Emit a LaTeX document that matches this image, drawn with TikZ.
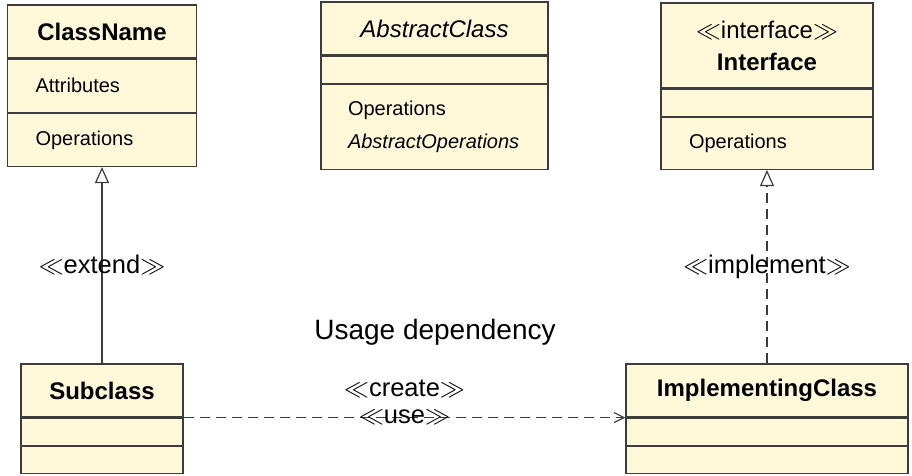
\documentclass[tikz,border=0pt]{standalone}
\usepackage{fontspec}
\setmainfont{Liberation Sans}
\usetikzlibrary{arrows.meta,positioning}

\definecolor{umlfill}{RGB}{255,249,218}
\definecolor{umlline}{RGB}{60,60,60}
\newcommand\headfont{\fontsize{24}{28}\selectfont\bfseries}
\newcommand\partfont{\fontsize{20}{24}\selectfont}
\newcommand\labelfont{\fontsize{25.5}{30}\selectfont}

\begin{document}
\begin{tikzpicture}[x=1pt,y=-1pt,
    umlhead/.style={draw=umlline,fill=umlfill,line width=1.2pt,inner sep=0pt,align=center,font=\headfont},
    umlpart/.style={draw=umlline,fill=umlfill,line width=1.2pt,inner ysep=0pt,inner xsep=28pt,align=left,font=\partfont},
    stereo/.style={font=\labelfont,inner sep=1pt},
    extends/.style={-{Triangle[open,length=16pt,width=14pt]},line width=1.2pt,draw=umlline},
    realizes/.style={extends,dash pattern=on 10pt off 6pt},
    uses/.style={-{Straight Barb[length=10pt,width=10pt]},line width=1.2pt,draw=umlline,dash pattern=on 10pt off 6pt}]
  \useasboundingbox (0,0) rectangle (912,475);

  % ClassName
  \node[umlhead,minimum width=189pt,minimum height=53pt] (cn) at (102,31.5) {ClassName};
  \node[umlpart,minimum height=53pt,text width=133pt] (cnAttr) [below=0pt of cn] {Attributes};
  \node[umlpart,minimum height=53pt,text width=133pt] (cnOps)  [below=0pt of cnAttr] {Operations};

  % AbstractClass
  \node[umlhead,minimum width=227pt,minimum height=53pt,font=\fontsize{24}{28}\selectfont\itshape] (ac) at (434.5,28.5) {AbstractClass};
  \node[umlhead,minimum width=227pt,minimum height=27pt] (acAttr) [below=0pt of ac] {};
  \node[umlpart,minimum height=85pt,inner xsep=27pt,text width=173pt,font=\fontsize{20}{33}\selectfont] (acOps) [below=0pt of acAttr]
    {Operations\\\textit{AbstractOperations}};

  % Interface
  \node[umlhead,minimum width=212pt,minimum height=85pt,font=\fontsize{24}{32}\selectfont] (itf) at (767,45.5)
    {$\ll$interface$\gg$\\\textbf{Interface}};
  \node[umlhead,minimum width=212pt,minimum height=27pt] (itfAttr) [below=0pt of itf] {};
  \node[umlpart,minimum height=52pt,text width=156pt] (itfOps) [below=0pt of itfAttr] {Operations};

  % Subclass
  \node[umlhead,minimum width=162pt,minimum height=53pt] (sub) at (102,390.5) {Subclass};
  \node[umlhead,minimum width=162pt,minimum height=27pt] (subAttr) [below=0pt of sub] {};
  \node[umlhead,minimum width=162pt,minimum height=27pt] (subOps)  [below=0pt of subAttr] {};

  % ImplementingClass
  \node[umlhead,minimum width=282pt,minimum height=53pt] (impl) at (767,390.5) {ImplementingClass};
  \node[umlhead,minimum width=282pt,minimum height=27pt] (implAttr) [below=0pt of impl] {};
  \node[umlhead,minimum width=282pt,minimum height=27pt] (implOps)  [below=0pt of implAttr] {};

  \node[font=\fontsize{28}{33}\selectfont] (usage) at (435,332) {Usage dependency};

  \path (sub.north)  edge[extends]  node[stereo] {$\ll$extend$\gg$} (cnOps.south)
        (impl.north) edge[realizes] node[stereo] {$\ll$implement$\gg$} (itfOps.south)
        (sub.south east) edge[uses] node[stereo] {$\ll$use$\gg$}
                                    node[stereo,yshift=29pt] {$\ll$create$\gg$} (impl.south west);
\end{tikzpicture}
\end{document}
